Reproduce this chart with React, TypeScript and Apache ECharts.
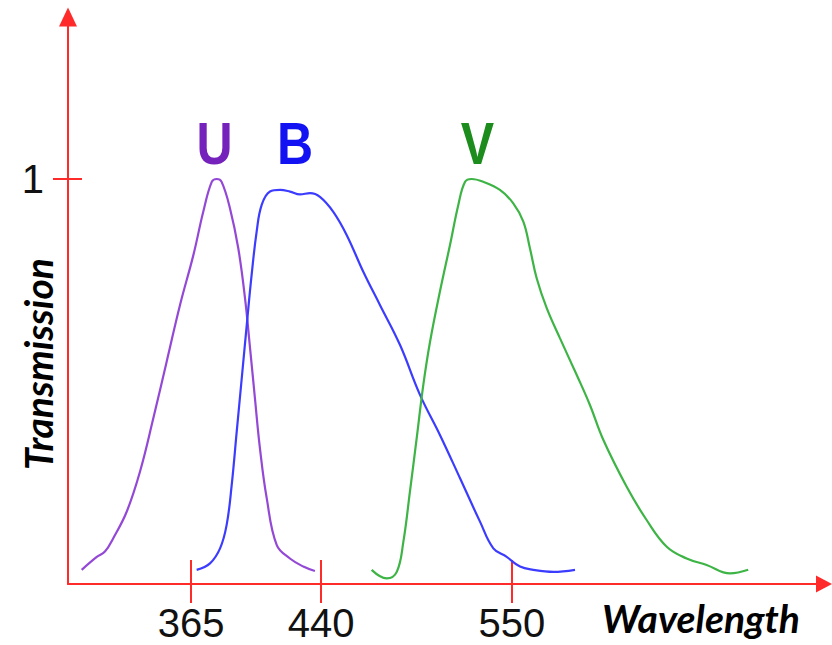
import React, { useEffect, useRef } from "react";
import * as echarts from "echarts";

// Tick labels
const xTickValues = [365, 440, 550];
const yTickValues = [1];

// U filter (wavelength nm, transmission)
const uWave = [301.9, 310.6, 315.3, 320.1, 327.9, 335.5, 343.2, 350.9, 358.6, 366.3, 372.0, 376.9, 379.8, 382.6, 387.4, 392.2, 396.1, 399.0, 401.8, 404.7, 408.6, 414.4, 422.0, 429.7, 436.4];
const uTrans = [0.035, 0.067, 0.08, 0.113, 0.179, 0.277, 0.409, 0.549, 0.689, 0.812, 0.919, 0.993, 1.0, 0.993, 0.928, 0.829, 0.705, 0.582, 0.459, 0.335, 0.212, 0.096, 0.063, 0.043, 0.032];

// B filter
const bWave = [368.2, 375.9, 381.7, 385.5, 388.4, 391.3, 394.2, 397.1, 399.9, 402.8, 405.7, 410.5, 416.3, 422.0, 427.8, 433.6, 439.3, 447.0, 454.7, 464.3, 473.9, 485.5, 497.0, 508.5, 520.1, 531.6, 539.3, 547.0, 554.7, 562.3, 573.9, 586.4];
const bTrans = [0.035, 0.051, 0.088, 0.146, 0.244, 0.376, 0.508, 0.64, 0.763, 0.87, 0.936, 0.969, 0.973, 0.969, 0.962, 0.965, 0.956, 0.919, 0.862, 0.771, 0.689, 0.59, 0.467, 0.368, 0.261, 0.154, 0.088, 0.067, 0.043, 0.035, 0.03, 0.035];

// V filter
const vWave = [469.1, 477.8, 483.6, 487.4, 491.2, 495.1, 498.9, 502.8, 508.5, 514.3, 519.1, 523.0, 526.8, 533.5, 543.1, 550.8, 556.6, 560.4, 564.3, 570.1, 577.7, 587.4, 595.0, 602.7, 616.2, 627.7, 639.3, 650.8, 662.3, 675.8, 686.3];
const vTrans = [0.035, 0.014, 0.03, 0.104, 0.228, 0.36, 0.491, 0.598, 0.722, 0.837, 0.936, 0.993, 1.0, 0.993, 0.973, 0.94, 0.895, 0.829, 0.755, 0.681, 0.607, 0.516, 0.442, 0.356, 0.24, 0.158, 0.092, 0.063, 0.047, 0.026, 0.035];

const filterNames = ["U", "B", "V"];

const RED = "#ff2b2b";
const LABEL_FONT = "'Liberation Sans', Arial, sans-serif";
const TITLE_FONT = "Lato, 'Open Sans', sans-serif";

const pairs = (xs: number[], ys: number[]) => xs.map((x, i) => [x, ys[i]]);

export default function App() {
  const ref = useRef<HTMLDivElement>(null);
  useEffect(() => {
    if (!ref.current) return;
    const chart = echarts.init(ref.current, null, { renderer: "svg" });
    const axisLineStyle = { color: RED, width: 2 };
    const xBase = {
      type: "value" as const,
      min: 294,
      max: 730,
      position: "bottom" as const,
      splitLine: { show: false },
    };
    const yBase = {
      type: "value" as const,
      min: 0,
      max: 1.4,
      position: "left" as const,
      splitLine: { show: false },
    };
    chart.setOption({
      animation: false,
      backgroundColor: "#ffffff",
      grid: { left: 68, right: 8, top: 17, bottom: 61, containLabel: false },
      xAxis: [
        {
          ...xBase,
          axisLine: {
            show: true,
            onZero: false,
            symbol: ["none", "triangle"],
            symbolSize: [17, 16],
            lineStyle: axisLineStyle,
          },
          axisTick: { show: true, customValues: xTickValues, length: 19, lineStyle: axisLineStyle },
          axisLabel: {
            show: true,
            customValues: xTickValues,
            fontSize: 40,
            color: "#111111",
            fontFamily: LABEL_FONT,
            margin: 19,
          },
        },
        {
          ...xBase,
          axisLine: { show: false },
          axisTick: { show: true, inside: true, customValues: xTickValues, length: 24, lineStyle: axisLineStyle },
          axisLabel: { show: false },
        },
      ],
      yAxis: [
        {
          ...yBase,
          axisLine: {
            show: true,
            onZero: false,
            symbol: ["none", "triangle"],
            symbolSize: [18, 19],
            lineStyle: axisLineStyle,
          },
          axisTick: { show: true, customValues: yTickValues, length: 15, lineStyle: axisLineStyle },
          axisLabel: {
            show: true,
            customValues: yTickValues,
            fontSize: 40,
            color: "#111111",
            fontFamily: LABEL_FONT,
            margin: 24,
          },
        },
        {
          ...yBase,
          axisLine: { show: false },
          axisTick: { show: true, inside: true, customValues: yTickValues, length: 14, lineStyle: axisLineStyle },
          axisLabel: { show: false },
        },
      ],
      series: [
        {
          name: filterNames[0],
          type: "line",
          xAxisIndex: 0,
          yAxisIndex: 0,
          data: pairs(uWave, uTrans),
          smooth: 0.4,
          showSymbol: false,
          lineStyle: { color: "#9448d6", width: 2.2 },
        },
        {
          name: filterNames[1],
          type: "line",
          xAxisIndex: 0,
          yAxisIndex: 0,
          data: pairs(bWave, bTrans),
          smooth: 0.4,
          showSymbol: false,
          lineStyle: { color: "#3c3cff", width: 2.2 },
        },
        {
          name: filterNames[2],
          type: "line",
          xAxisIndex: 0,
          yAxisIndex: 0,
          data: pairs(vWave, vTrans),
          smooth: 0.4,
          showSymbol: false,
          lineStyle: { color: "#3db445", width: 2.2 },
        },
      ],
      graphic: [
        {
          type: "text",
          x: 214.5,
          y: 144,
          scaleY: 1.17,
          style: { text: filterNames[0], fill: "#7422bb", font: `bold 50px ${LABEL_FONT}`, align: "center", verticalAlign: "middle" },
        },
        {
          type: "text",
          x: 295,
          y: 144,
          scaleY: 1.17,
          style: { text: filterNames[1], fill: "#1212f2", font: `bold 50px ${LABEL_FONT}`, align: "center", verticalAlign: "middle" },
        },
        {
          type: "text",
          x: 477.5,
          y: 144,
          scaleY: 1.17,
          style: { text: filterNames[2], fill: "#1c8c1c", font: `bold 50px ${LABEL_FONT}`, align: "center", verticalAlign: "middle" },
        },
        {
          type: "text",
          x: 701,
          y: 618,
          style: { text: "Wavelength", fill: "#000000", font: `italic bold 39px ${TITLE_FONT}`, align: "center", verticalAlign: "middle" },
        },
        {
          type: "text",
          x: 38,
          y: 364,
          rotation: Math.PI / 2,
          style: { text: "Transmission", fill: "#000000", font: `italic bold 39px ${TITLE_FONT}`, align: "center", verticalAlign: "middle" },
        },
      ],
    });
    return () => chart.dispose();
  }, []);
  return <div ref={ref} style={{ position: "fixed", left: 0, top: 0, width: 832, height: 645 }} />;
}
